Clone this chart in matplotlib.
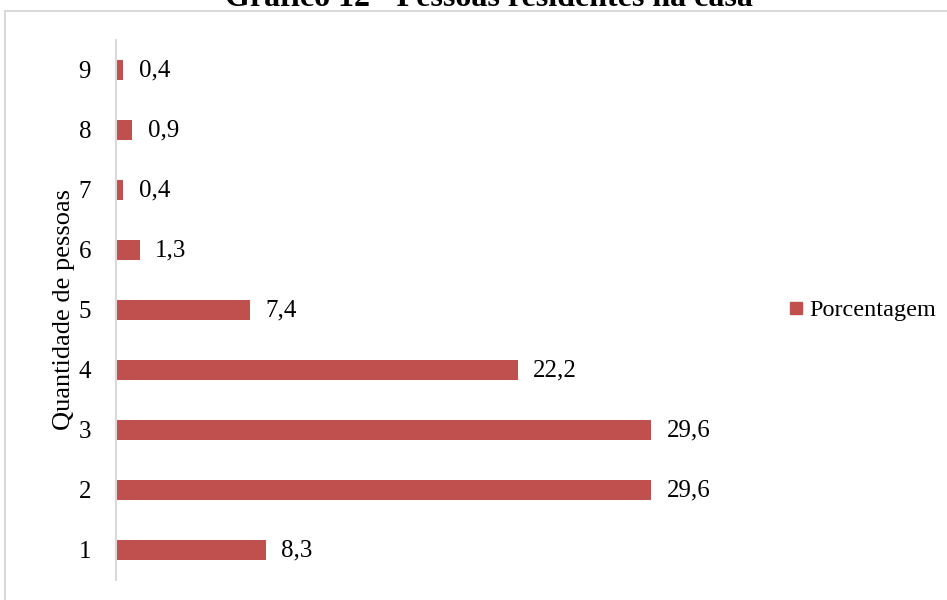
import matplotlib
matplotlib.use("Agg")
import matplotlib.pyplot as plt
from matplotlib.patches import Rectangle
from matplotlib.lines import Line2D

plt.rcParams['font.family'] = ['Liberation Serif', 'DejaVu Serif']

people = [1, 2, 3, 4, 5, 6, 7, 8, 9]
percent = [8.3, 29.6, 29.6, 22.2, 7.4, 1.3, 0.4, 0.9, 0.4]
series_name = "Porcentagem"
title = "Gráfico 12 - Pessoas residentes na casa"
ylabel = "Quantidade de pessoas"

bar_color = "#C0504D"
W, H = 947, 600
fig = plt.figure(figsize=(W / 100, H / 100), dpi=100)

# chart frame
fig.patches.append(Rectangle((5 / W, -0.1), 1.2, 1.1 - 11 / H,
                             transform=fig.transFigure, fill=False,
                             edgecolor="#d9d9d9", linewidth=1.5))

ax = fig.add_axes([116 / W, 20 / H, (749 - 116) / W, (580 - 40) / H])
ax.barh(people, percent, height=0.34, color=bar_color, label=series_name)
ax.set_xlim(0, 35)
ax.set_ylim(0.5, 9.5)

for y, v in zip(people, percent):
    ax.annotate(f"{v:.1f}".replace(".", ","), (v, y), xytext=(11, 0),
                textcoords="offset points", va="center", ha="left",
                fontsize=18)

for s in ["top", "right", "bottom"]:
    ax.spines[s].set_visible(False)
ax.spines["left"].set_color("#d9d9d9")
ax.spines["left"].set_linewidth(1.5)
ax.set_xticks([])
ax.set_yticks(people)
ax.set_yticklabels([str(p) for p in people], fontsize=18)
ax.tick_params(axis="y", length=0, pad=18)
ax.set_ylabel(ylabel, fontsize=19, labelpad=2.5)

fig.text(489 / W, 1 - 6 / H, title, ha="center", va="baseline",
         fontsize=23, fontweight="bold")

handle = Line2D([], [], marker="s", linestyle="none", color=bar_color,
                markersize=8)
fig.legend([handle], [series_name], loc="center left",
           bbox_to_anchor=(772 / W, 1 - 310 / H), frameon=False,
           fontsize=17.5, handletextpad=0.05, borderpad=0, handlelength=1.0)

fig.savefig("out.png", dpi=100)
